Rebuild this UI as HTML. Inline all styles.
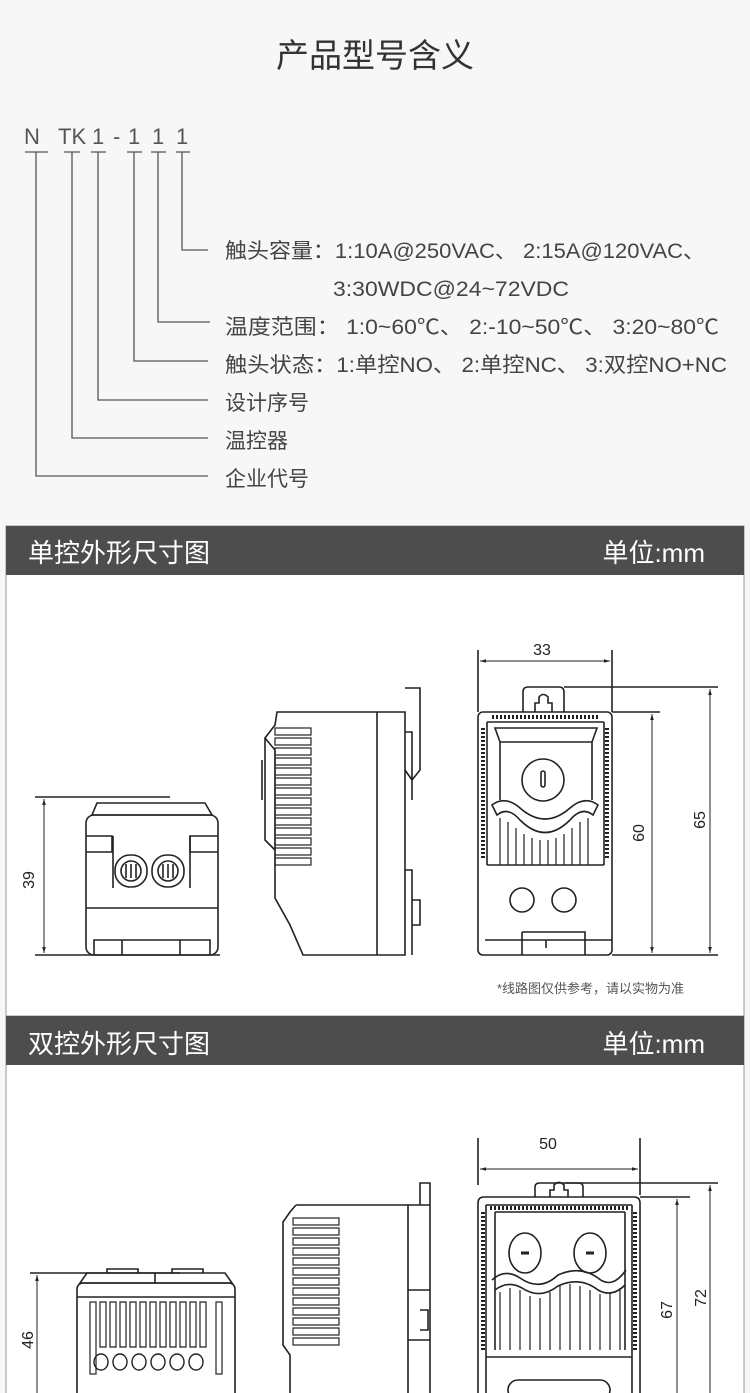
<!DOCTYPE html>
<html><head><meta charset="utf-8"><style>
html,body{margin:0;padding:0;width:750px;height:1393px;overflow:hidden;background:#f7f7f7}
svg{display:block}
text{font-family:"Liberation Sans","Noto Sans CJK SC",sans-serif}
</style></head><body>
<svg width="750" height="1393" viewBox="0 0 750 1393" xmlns="http://www.w3.org/2000/svg">
<defs>
<marker id="a" viewBox="0 0 10 10" refX="10" refY="5" markerWidth="8" markerHeight="6" orient="auto-start-reverse"><path d="M0,2 L10,5 L0,8 z" fill="#222"/></marker>
</defs>
<rect width="750" height="1393" fill="#f7f7f7"/>
<text x="375" y="67" font-size="33" text-anchor="middle" fill="#333">产品型号含义</text>
<g fill="#555" font-size="22">
<text x="24" y="144">N</text><text x="58" y="144">TK</text><text x="92" y="144">1</text><text x="113" y="144">-</text><text x="128" y="144">1</text><text x="152" y="144">1</text><text x="176" y="144">1</text>
</g>
<g stroke="#555" stroke-width="1.3" fill="none">
<path d="M25 152H48M64 152H80M91 152H106M127 152H142M151 152H166M176 152H190"/>
<path d="M182 152V250H208M158 152V322H210M134 152V361H208M98 152V400H208M72 152V438H208M36 152V476H208"/>
</g>
<g fill="#444" font-size="21">
<text x="225" y="258" textLength="480" lengthAdjust="spacingAndGlyphs">触头容量：1:10A@250VAC、 2:15A@120VAC、</text>
<text x="333" y="296" textLength="236" lengthAdjust="spacingAndGlyphs">3:30WDC@24~72VDC</text>
<text x="225" y="334" textLength="494" lengthAdjust="spacingAndGlyphs">温度范围： 1:0~60℃、 2:-10~50℃、 3:20~80℃</text>
<text x="225" y="372" textLength="502" lengthAdjust="spacingAndGlyphs">触头状态：1:单控NO、 2:单控NC、 3:双控NO+NC</text>
<text x="225" y="410">设计序号</text>
<text x="225" y="448">温控器</text>
<text x="225" y="486">企业代号</text>
</g>
<rect x="6" y="526" width="738" height="490" fill="#fff" stroke="#999"/>
<rect x="6" y="526" width="738" height="49" fill="#4d4d4d"/>
<text x="28" y="562" font-size="26" fill="#fff">单控外形尺寸图</text>
<text x="705" y="562" font-size="26" fill="#fff" text-anchor="end">单位:mm</text>
<rect x="6" y="1016" width="738" height="400" fill="#fff" stroke="#999"/>
<rect x="6" y="1016" width="738" height="49" fill="#4d4d4d"/>
<text x="28" y="1053" font-size="26" fill="#fff">双控外形尺寸图</text>
<text x="705" y="1053" font-size="26" fill="#fff" text-anchor="end">单位:mm</text>
<text x="497" y="993" font-size="13" fill="#555">*线路图仅供参考，请以实物为准</text>

<g stroke="#222" stroke-width="1.6" fill="none">
<!-- front view 1 -->
<path d="M35 797H170M35 955H220"/>
<line x1="44" y1="799" x2="44" y2="953" stroke-width="1" marker-start="url(#a)" marker-end="url(#a)"/>
<path d="M97 803H205L212 815H92z"/>
<rect x="86" y="815" width="132" height="140" rx="8"/>
<path d="M86 836H112V852H86M218 836H190V852H218"/>
<path d="M113 836V888M190 836V888M86 908H218"/>
<rect x="115" y="855" width="32" height="32" rx="15"/><rect x="152" y="855" width="32" height="32" rx="15"/>
<circle cx="131" cy="871" r="10"/><circle cx="168" cy="871" r="10"/>
<path d="M126 864V878M131 864V878M136 864V878M163 864V878M168 864V878M173 864V878"/>
<path d="M94 955V940H210V955M122 940V955M180 940V955"/>
<!-- side view 1 -->
<path d="M277 712H405V955H303L290 925L275 898L275 750L265 738L275 725Z"/>
<path d="M377 712V955M405 688H420V770L412 780L405 770M405 732H412V800M405 870H412V955M412 900H420V925H412"/>
<path d="M265 738V840L275 850M262 760V800"/>
<g stroke-width="1.2">
<rect x="275" y="728" width="36" height="7"/><rect x="275" y="738" width="36" height="7"/><rect x="275" y="748" width="36" height="7"/><rect x="275" y="758" width="36" height="7"/><rect x="275" y="768" width="36" height="7"/><rect x="275" y="778" width="36" height="7"/><rect x="275" y="788" width="36" height="7"/><rect x="275" y="798" width="36" height="7"/><rect x="275" y="808" width="36" height="7"/><rect x="275" y="818" width="36" height="7"/><rect x="275" y="828" width="36" height="7"/><rect x="275" y="838" width="36" height="7"/><rect x="275" y="848" width="36" height="7"/><rect x="275" y="858" width="36" height="7"/>
</g>
<!-- front right 1 -->
<path d="M478 650V712M612 650V712M612 712H660M564 687H718M612 955H718"/>
<line x1="480" y1="661" x2="610" y2="661" stroke-width="1" marker-start="url(#a)" marker-end="url(#a)"/>
<line x1="652" y1="714" x2="652" y2="953" stroke-width="1" marker-start="url(#a)" marker-end="url(#a)"/>
<line x1="710" y1="689" x2="710" y2="953" stroke-width="1" marker-start="url(#a)" marker-end="url(#a)"/>
<path d="M523 712V692Q523 687 528 687H559Q564 687 564 692V712"/>
<path d="M535 712V703H539V697Q543 692 548 697V703H552V712"/>
<rect x="478" y="712" width="134" height="243" rx="5"/>
<path d="M487 722H604M487 722V865M604 722V865M487 865H604"/>
<path d="M495 728H597L592 742H500Z M500 742V800M592 742V800"/>
<circle cx="543" cy="780" r="21"/><rect x="541" y="771" width="4" height="16" rx="2"/>
<path d="M492 805Q505 795 520 808Q545 830 570 808Q585 795 598 805L593 815Q582 806 570 820Q545 845 520 820Q508 806 497 815Z"/>
<path d="M500 818V865M508 822V865M516 828V865M524 834V865M532 838V865M540 840V865M548 840V865M556 838V865M564 834V865M572 828V865M580 822V865M588 818V865" stroke-width="1.2"/>
<circle cx="522" cy="900" r="12"/><circle cx="564" cy="900" r="12"/>
<path d="M485 940H612M522 932H585V955M522 932V955M546 940V948"/>
<path d="M483 728V860M607 728V860M492 717H598" stroke-width="4" stroke-dasharray="2 2"/>
<!-- panel 2 dims -->
<path d="M30 1273H180M478 1138V1185M640 1138V1195M565 1183H718M640 1197H690"/>
<line x1="480" y1="1169" x2="638" y2="1169" stroke-width="1" marker-start="url(#a)" marker-end="url(#a)"/>
<line x1="37" y1="1275" x2="37" y2="1393" stroke-width="1" marker-start="url(#a)"/>
<line x1="677" y1="1199" x2="677" y2="1393" stroke-width="1" marker-start="url(#a)"/>
<line x1="710" y1="1185" x2="710" y2="1393" stroke-width="1" marker-start="url(#a)"/>
<!-- front left 2 -->
<path d="M87 1273H225L232 1283H80Z M107 1273V1269H138V1273M172 1273V1269H203V1273M155 1273V1283"/>
<path d="M77 1393V1290Q77 1283 84 1283H228Q235 1283 235 1290V1393M77 1297H235"/>
<g stroke-width="1.2">
<rect x="90" y="1302" width="6" height="72"/><rect x="216" y="1302" width="6" height="72"/>
<path d="M100 1302V1347H106V1302ZM110 1302V1347H116V1302ZM120 1302V1347H126V1302ZM130 1302V1347H136V1302ZM140 1302V1347H146V1302ZM150 1302V1347H156V1302ZM160 1302V1347H166V1302ZM170 1302V1347H176V1302ZM180 1302V1347H186V1302ZM190 1302V1347H196V1302ZM200 1302V1347H206V1302Z"/>
</g>
<!-- side view 2 -->
<path d="M296 1205H430V1393M408 1205V1393M420 1205V1183H430V1205M296 1205L290 1212L283 1222V1345L290 1355V1393M283 1245V1290"/>
<path d="M408 1290H430M408 1340H430M420 1310H428V1330H420"/>
<g stroke-width="1.2">
<rect x="293" y="1218" width="46" height="7"/><rect x="293" y="1228" width="46" height="7"/><rect x="293" y="1238" width="46" height="7"/><rect x="293" y="1248" width="46" height="7"/><rect x="293" y="1258" width="46" height="7"/><rect x="293" y="1268" width="46" height="7"/><rect x="293" y="1278" width="46" height="7"/><rect x="293" y="1288" width="46" height="7"/><rect x="293" y="1298" width="46" height="7"/><rect x="293" y="1308" width="46" height="7"/><rect x="293" y="1318" width="46" height="7"/><rect x="293" y="1328" width="46" height="7"/><rect x="293" y="1338" width="46" height="7"/>
</g>
<!-- front right 2 -->
<path d="M535 1197V1187Q535 1183 540 1183H578Q583 1183 583 1187V1197"/>
<path d="M550 1197V1190H554V1185Q559 1180 564 1185V1190H568V1197"/>
<path d="M478 1393V1203Q478 1197 484 1197H634Q640 1197 640 1203V1393"/>
<path d="M486 1205H632M486 1205V1393M632 1205V1393M495 1212H625M495 1212V1350M625 1212V1350M486 1357H632"/>
<ellipse cx="525" cy="1253" rx="16" ry="20"/><ellipse cx="590" cy="1253" rx="16" ry="20"/>
<path d="M521 1253H529M586 1253H594" stroke-width="3"/>
<path d="M492 1280Q505 1268 520 1278Q540 1292 558 1275Q580 1265 598 1278Q612 1290 626 1270"/>
<path d="M495 1290Q508 1280 522 1288Q540 1300 558 1286Q580 1276 598 1290Q612 1298 625 1285"/>
<path d="M500 1292V1350M510 1288V1350M520 1290V1350M530 1296V1350M540 1298V1350M550 1292V1350M560 1286V1350M570 1284V1350M580 1286V1350M590 1290V1350M600 1294V1350M610 1292V1350M620 1288V1350" stroke-width="1.2"/>
<path d="M483 1212V1350M635 1212V1350M490 1208H628" stroke-width="4" stroke-dasharray="2 2"/>
<rect x="508" y="1380" width="102" height="20" rx="10"/>
</g>
<g fill="none" stroke="#222" stroke-width="1.4">
<ellipse cx="101" cy="1362" rx="7" ry="8"/><ellipse cx="120" cy="1362" rx="7" ry="8"/><ellipse cx="139" cy="1362" rx="7" ry="8"/><ellipse cx="158" cy="1362" rx="7" ry="8"/><ellipse cx="177" cy="1362" rx="7" ry="8"/><ellipse cx="196" cy="1362" rx="7" ry="8"/>
</g>
<g font-size="16" fill="#222">
<text x="542" y="655" text-anchor="middle">33</text>
<text x="548" y="1149" text-anchor="middle">50</text>
<text transform="translate(34,880) rotate(-90)" text-anchor="middle">39</text>
<text transform="translate(644,833) rotate(-90)" text-anchor="middle">60</text>
<text transform="translate(705,820) rotate(-90)" text-anchor="middle">65</text>
<text transform="translate(33,1340) rotate(-90)" text-anchor="middle">46</text>
<text transform="translate(672,1310) rotate(-90)" text-anchor="middle">67</text>
<text transform="translate(706,1298) rotate(-90)" text-anchor="middle">72</text>
</g>
</svg>
</body></html>
